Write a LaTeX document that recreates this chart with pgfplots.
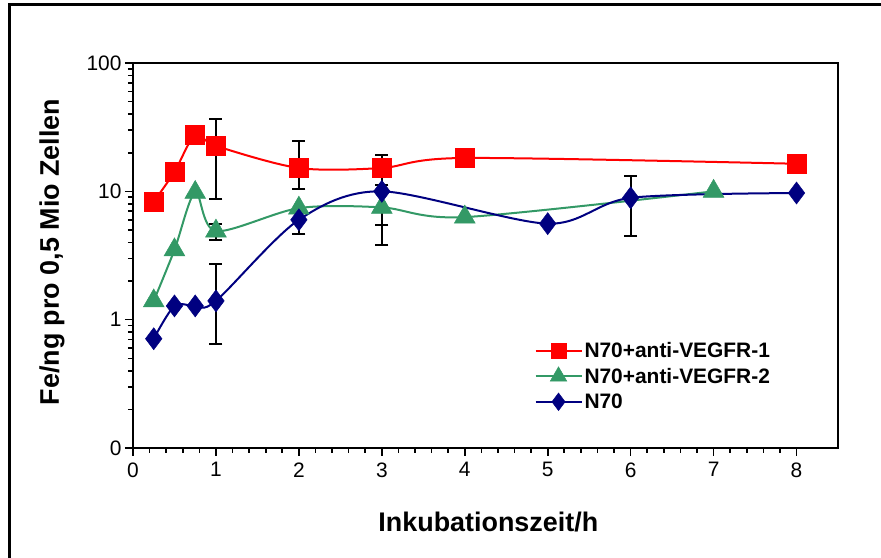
\documentclass[border=0pt]{standalone}
\usepackage{fontspec}
\setmainfont{Liberation Sans}
\usepackage{pgfplots}
\pgfplotsset{compat=1.18}

\definecolor{vegfrone}{RGB}{255,0,0}
\definecolor{vegfrtwo}{RGB}{51,153,102}
\definecolor{nsev}{RGB}{0,0,128}

\begin{document}
\begin{tikzpicture}
\useasboundingbox (-133bp,-110bp) rectangle (748bp,448bp);
% chart frame (only top and left visible)
\draw[line width=3bp] (-123bp,-110bp) -- (-123bp,443bp) -- (748bp,443bp);
\begin{axis}[
  at={(0,0)}, anchor=south west,
  scale only axis, width=705bp, height=385bp,
  ymode=log, log basis y=10,
  xmin=0, xmax=8.5, ymin=0.1, ymax=100,
  xtick={0,1,...,8}, minor x tick num=4,
  ytick={0.1,1,10,100},
  yticklabels={\textnormal{0},\textnormal{1},\textnormal{10},\textnormal{100}},
  minor ytick={0.2,0.3,0.4,0.5,0.6,0.7,0.8,0.9,2,3,4,5,6,7,8,9,20,30,40,50,60,70,80,90},
  xtick pos=left, ytick pos=left, tick align=outside,
  major tick length=8bp, minor tick length=5bp,
  every tick/.style={black, line width=1.6bp},
  axis line style={line width=2.2bp},
  xticklabels={\textnormal{0},\textnormal{1},\textnormal{2},\textnormal{3},\textnormal{4},\textnormal{5},\textnormal{6},\textnormal{7},\textnormal{8}},
  xticklabel style={font=\fontsize{21}{23}\selectfont, yshift=-3bp},
  yticklabel style={font=\fontsize{21}{23}\selectfont},
  xlabel={Inkubationszeit/h},
  ylabel={Fe/ng pro 0,5 Mio Zellen},
  label style={font=\fontsize{27}{30}\selectfont\bfseries},
  xlabel style={at={(axis description cs:0.504,-0.192)}, anchor=center},
  ylabel style={at={(axis description cs:-0.115,0.509)}, anchor=center},
  legend style={draw=none, fill=none, at={(0.565,0.285)}, anchor=north west,
    font=\fontsize{21}{23}\selectfont\bfseries, row sep=5bp,
    /tikz/every even column/.append style={column sep=2bp}},
  legend image code/.code={\draw[mark repeat=2,mark phase=2,#1,
    every mark/.append style={scale=0.8}]
    plot coordinates {(0bp,0bp) (23bp,0bp) (46bp,0bp)};},
  legend cell align=left,
]
% error bars (behind markers)
\addplot[only marks, mark=none, forget plot,
  error bars/.cd, y dir=both, y explicit,
  error bar style={draw=black, line width=2bp},
  error mark options={rotate=90, mark size=6.5bp, line width=2bp, draw=black}]
  coordinates {
  (1,22.6) += (0,14.1) -= (0,13.9)
  (2,15.2) += (0,9.4) -= (0,4.8)
  (3,15.2) += (0,4.0) -= (0,4.0)
  (1,4.9) += (0,0.7) -= (0,0.7)
  (3,7.5) += (0,3.8) -= (0,3.7)
  (1,1.4) += (0,1.33) -= (0,0.75)
  (2,6.0) += (0,1.3) -= (0,1.33)
  (3,10) += (0,4.5) -= (0,4.5)
  (6,8.9) += (0,4.3) -= (0,4.4)
};

\addplot[smooth, color=vegfrone, line width=2bp, mark=square*,
  mark size=9.5bp, mark options={solid, fill=vegfrone, line width=0.5bp}]
  coordinates {
  (0.25,8.3) (0.5,14.2) (0.75,27.5) (1,22.6) (2,15.2) (3,15.2) (4,18.2) (8,16.4)
};
\addlegendentry{N70+anti-VEGFR-1}

\addplot[smooth, color=vegfrtwo, line width=2bp, mark=triangle*,
  mark size=12bp, mark options={solid, fill=vegfrtwo, line width=0.5bp}]
  coordinates {
  (0.25,1.4) (0.5,3.5) (0.75,9.8) (1,4.9) (2,7.4) (3,7.5) (4,6.3) (7,10)
};
\addlegendentry{N70+anti-VEGFR-2}

\addplot[smooth, color=nsev, line width=2bp, mark=diamond*,
  mark size=11bp, mark options={solid, fill=nsev, line width=0.5bp}]
  coordinates {
  (0.25,0.71) (0.5,1.28) (0.75,1.28) (1,1.4) (2,6.0) (3,10) (5,5.6) (6,8.9) (8,9.7)
};
\addlegendentry{N70}
\end{axis}
\end{tikzpicture}
\end{document}
